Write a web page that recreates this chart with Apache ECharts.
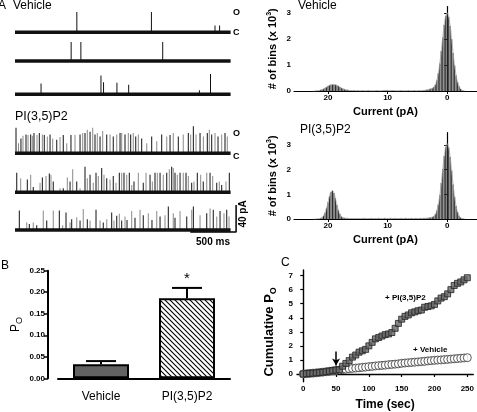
<!DOCTYPE html>
<html><head><meta charset="utf-8">
<script src="https://cdn.jsdelivr.net/npm/echarts@6/dist/echarts.min.js"></script>
<style>html,body{margin:0;padding:0;background:#fff}#c{width:477px;height:412px}</style>
</head><body><div id="c"></div><script>
// ---------- DATA ----------
// Panel A single-channel traces: spikes as [time (ms), amplitude (pA)]
const traceEnd = 2350;
const vehTrace1 = [[674,30],[1487,30],[2180,10],[2230,10]];
const vehTrace2 = [[612,28],[718,28],[1610,28]];
const vehTrace3 = [[284,16],[937,28],[965,18],[1111,17],[1239,14],[2010,6],[2131,30]];
const piTrace1 = [[11,38],[38,15],[65,22],[87,26],[120,28],[142,27],[171,28],[189,26],[207,30],[240,27],[265,30],[298,28],[319,27],[352,25],[382,28],[411,22],[455,20],[491,24],[526,27],[564,15],[610,27],[654,27],[709,28],[738,30],[763,30],[788,35],[818,32],[847,38],[872,28],[897,30],[927,25],[956,33],[1000,28],[1036,28],[1071,25],[1109,28],[1145,30],[1163,30],[1199,28],[1235,30],[1261,28],[1289,30],[1316,25],[1344,28],[1381,22],[1436,15],[1490,25],[1545,18],[1599,28],[1654,25],[1690,27],[1725,30],[1780,25],[1834,28],[1889,30],[1915,28],[1944,40],[1973,28],[2017,30],[2053,25],[2096,30],[2118,35],[2144,28],[2180,30],[2213,25],[2253,28],[2289,30],[2314,25]];
const piTrace2 = [[19,29],[62,21],[134,19],[171,26],[199,8],[273,14],[298,22],[338,24],[374,28],[392,26],[417,16],[491,6],[526,6],[570,22],[600,16],[629,34],[673,16],[709,6],[763,38],[788,21],[818,26],[853,14],[883,29],[908,24],[945,36],[970,26],[1000,21],[1036,19],[1071,24],[1101,14],[1137,29],[1163,29],[1188,29],[1218,26],[1246,29],[1272,11],[1297,16],[1344,29],[1398,14],[1428,29],[1472,26],[1497,16],[1526,29],[1551,29],[1581,29],[1616,26],[1654,29],[1682,34],[1708,38],[1725,36],[1744,29],[1769,26],[1799,29],[1834,29],[1864,29],[1889,24],[1926,14],[1951,16],[1987,29],[2024,26],[2052,16],[2090,29],[2126,29],[2155,24],[2199,14],[2227,16],[2253,11],[2300,16],[2336,29]];
const piTrace3 = [[47,29],[128,11],[156,9],[199,11],[237,7],[308,29],[346,14],[417,29],[483,29],[520,7],[556,26],[600,11],[618,16],[673,19],[709,14],[744,31],[788,16],[818,14],[883,30],[927,14],[962,11],[1000,16],[1054,26],[1079,14],[1109,21],[1137,24],[1163,14],[1199,20],[1221,15],[1272,28],[1308,18],[1363,30],[1398,22],[1453,25],[1493,15],[1545,28],[1581,20],[1635,22],[1671,35],[1725,25],[1744,18],[1799,28],[1872,20],[1926,30],[1944,35],[2017,22],[2090,25],[2126,32],[2161,30],[2199,20],[2235,28],[2278,25],[2308,30],[2333,20]];
const scaleTimeMs = 500, scaleCurrentPA = 40;

// Panel A histograms: bins of 0.25 pA from -3 pA, counts in thousands
const binStart = -3, binWidth = 0.25;
const vehHistCounts = [
 0.00,0.01,0.03,0.08,0.18,0.34,0.60,0.98,1.46,2.00,2.50,2.86,3.00,2.88,2.55,2.06,1.54,1.06,0.68,0.41,0.24,0.15,0.11,0.09,0.07,0.05,0.04,0.03,
 0.02,0.02,0.01,0.02,0.01,0.01,0.02,0.01,0.01,0.01,0.02,0.01,0.01,0.01,0.01,0.02,0.01,0.01,0.01,0.01,0.02,0.02,0.01,0.02,
 0.02,0.03,0.02,0.02,0.01,0.01,0.01,0.02,0.01,0.01,0.01,0.01,0.01,0.02,0.01,0.01,0.01,0.02,0.01,0.01,0.02,0.01,0.02,0.02,
 0.02,0.02,0.03,0.04,0.05,0.07,0.09,0.12,0.15,0.19,0.22,0.24,0.25,0.25,0.24,0.22,0.19,0.15,0.12,0.08,0.06,0.04,0.02,0.01,0.01,0.00,0.00];
const piHistCounts = [
 0.00,0.01,0.02,0.05,0.13,0.28,0.53,0.90,1.40,1.97,2.51,2.90,3.05,2.92,2.55,2.02,1.46,0.96,0.59,0.34,0.19,0.11,0.08,0.06,0.05,0.04,0.03,0.03,
 0.03,0.02,0.03,0.02,0.02,0.03,0.02,0.02,0.03,0.02,0.02,0.02,0.03,0.02,0.02,0.03,0.02,0.02,0.02,0.03,0.02,0.02,0.03,0.02,
 0.02,0.02,0.03,0.02,0.02,0.02,0.03,0.02,0.02,0.02,0.02,0.03,0.02,0.02,0.02,0.02,0.03,0.02,0.02,0.02,0.02,0.02,0.02,0.02,
 0.02,0.02,0.02,0.03,0.03,0.04,0.06,0.10,0.20,0.36,0.58,0.84,1.05,1.15,1.10,0.92,0.68,0.44,0.25,0.13,0.06,0.03,0.01,0.01,0.00,0.00,0.00];
const histTicks = [0,10,20];
const histYTicks = [0,1,2,3];

// Panel B: open probability
const groups = ['Vehicle','PI(3,5)P2'];
const poMean = [0.0325, 0.186];
const poSem = [0.0075, 0.024];
const sigMarks = ['', '*'];

// Panel C: cumulative Po
const cumTime = [0,5,10,15,20,25,30,35,40,45,50,55,60,65,70,75,80,85,90,95,100,105,110,115,120,125,130,135,140,145,150,155,160,165,170,175,180,185,190,195,200,205,210,215,220,225,230,235,240,245,250];
const cumPI = [0,0.02,0.04,0.06,0.08,0.10,0.13,0.16,0.20,0.24,0.28,0.30,0.55,0.75,0.95,1.20,1.35,1.55,1.65,1.75,2.00,2.25,2.50,2.60,2.70,2.80,2.85,2.95,3.25,3.60,3.90,4.10,4.20,4.35,4.42,4.50,4.55,4.75,4.80,4.85,4.95,5.20,5.40,5.50,5.70,6.00,6.30,6.45,6.55,6.70,6.85];
const cumVeh = [0,0.02,0.04,0.06,0.08,0.11,0.13,0.16,0.19,0.22,0.25,0.28,0.31,0.34,0.37,0.40,0.42,0.44,0.47,0.49,0.52,0.54,0.57,0.59,0.61,0.63,0.66,0.68,0.70,0.72,0.76,0.78,0.80,0.82,0.84,0.86,0.88,0.90,0.93,0.95,0.97,0.99,1.00,1.02,1.04,1.06,1.08,1.10,1.12,1.14,1.16];
const additionTime = 50;
const cumXTicks = [0,50,100,150,200,250];
const cumYTicks = [0,1,2,3,4,5,6,7];

// ---------- CHART ----------
const FONT = 'Liberation Sans, Arial, Helvetica, sans-serif';
const chart = echarts.init(document.getElementById('c'), null, {renderer:'canvas'});
const grids = [], xAxes = [], yAxes = [], series = [];

// traces
const traces = [vehTrace1, vehTrace2, vehTrace3, piTrace1, piTrace2, piTrace3];
const baselines = [32.3, 61, 94.3, 153.3, 192.3, 230];
const pxPerPA = 0.675, msPerPx = 10.9, traceAxisMax = 2450, yLo = -4, yHi = 40;
traces.forEach((tr, k) => {
  grids.push({left:15, top: baselines[k] - yHi*pxPerPA, width: traceAxisMax/msPerPx, height: (yHi-yLo)*pxPerPA});
  xAxes.push({gridIndex:k, type:'value', min:0, max:traceAxisMax, show:false});
  yAxes.push({gridIndex:k, type:'value', min:yLo, max:yHi, show:false});
  series.push({type:'line', xAxisIndex:k, yAxisIndex:k, data:[[0,0],[traceEnd,0]], symbol:'none', silent:true,
    lineStyle:{color:'#111', width:3.4}});
  series.push({type:'bar', xAxisIndex:k, yAxisIndex:k, barWidth:1, silent:true,
    data: tr.map((p,i) => ({value:p, itemStyle:{color: (k>=3 && i%2===1) ? '#8a8a8a' : '#111'}}))});
});
// scale bar in last trace grid
const sbEnd = 2410, sbBase = -3;
series.push({type:'line', xAxisIndex:5, yAxisIndex:5, symbol:'none', silent:true,
  data:[[sbEnd-scaleTimeMs, sbBase],[sbEnd, sbBase],[sbEnd, sbBase+scaleCurrentPA]],
  lineStyle:{color:'#000', width:1.5}});

// histograms
const hsup = {sup:{fontSize:7, fontWeight:'bold', fontFamily:FONT, padding:[0,0,7,0]}};
function addHist(idx, top, height, ymax, counts) {
  grids.push({left:294, top, width:183, height});
  xAxes.push({gridIndex:idx, type:'value', min:-5, max:25.7, inverse:true,
    axisLine:{lineStyle:{color:'#000', width:1.2}},
    axisTick:{customValues:histTicks, length:3, lineStyle:{color:'#000'}},
    axisLabel:{customValues:histTicks, fontSize:8, fontWeight:'bold', color:'#000', margin:3, fontFamily:FONT},
    splitLine:{show:false},
    name:'Current (pA)', nameLocation:'middle', nameGap:15,
    nameTextStyle:{fontSize:11, fontWeight:'bold', color:'#000', fontFamily:FONT}});
  yAxes.push({gridIndex:idx, type:'value', min:0, max:ymax,
    axisLine:{show:true, lineStyle:{color:'#000', width:1.2}},
    axisTick:{show:true, customValues:histYTicks, length:3, lineStyle:{color:'#000'}},
    axisLabel:{customValues:histYTicks, fontSize:8, fontWeight:'bold', color:'#000', margin:3, fontFamily:FONT},
    splitLine:{show:false},
    name:'# of bins (x 10{sup|3})', nameLocation:'middle', nameGap:14, nameRotate:90,
    nameTextStyle:{fontSize:11, fontWeight:'bold', color:'#000', fontFamily:FONT, rich:hsup}});
  const pts = counts.map((c,i) => [binStart + i*binWidth, c]);
  series.push({type:'bar', xAxisIndex:idx, yAxisIndex:idx, barWidth:1.1, silent:true, data:pts, itemStyle:{color:'#2e2e2e'}});
  series.push({type:'line', xAxisIndex:idx, yAxisIndex:idx, smooth:true, symbol:'none', silent:true, data:pts,
    lineStyle:{color:'#aaa', width:0.8}});
}
addHist(6, 6.5, 84.5, 3.25, vehHistCounts);
addHist(7, 132.7, 86.3, 3.5, piHistCounts);

// Panel B
const pc = document.createElement('canvas'); pc.width = 5; pc.height = 5;
const g2 = pc.getContext('2d'); g2.fillStyle = '#fff'; g2.fillRect(0,0,5,5);
g2.strokeStyle = '#000'; g2.lineWidth = 1.1; g2.beginPath();
g2.moveTo(-1,-1); g2.lineTo(6,6); g2.moveTo(-1,4); g2.lineTo(1,6); g2.moveTo(4,-1); g2.lineTo(6,1); g2.stroke();
const hatch = {image: pc, repeat:'repeat'};
grids.push({left:58, top:270.7, width:172, height:107.6});
xAxes.push({gridIndex:8, type:'category', data:groups, offset:5,
  axisLine:{lineStyle:{color:'#000', width:2}},
  axisTick:{alignWithLabel:true, length:5, lineStyle:{color:'#000', width:2}},
  axisLabel:{fontSize:12, color:'#000', margin:7, fontFamily:FONT}});
yAxes.push({gridIndex:8, type:'value', min:0, max:0.25, interval:0.05, offset:10,
  axisLine:{show:true, lineStyle:{color:'#000', width:2}},
  axisTick:{show:true, length:4, lineStyle:{color:'#000', width:1.5}},
  axisLabel:{fontSize:8, fontWeight:'bold', color:'#000', margin:3, fontFamily:FONT, formatter:v => v.toFixed(2)},
  splitLine:{show:false},
  name:'P{sub|O}', nameLocation:'middle', nameGap:24, nameRotate:90,
  nameTextStyle:{fontSize:12, color:'#000', fontFamily:FONT, rich:{sub:{fontSize:9, fontFamily:FONT, padding:[8,0,0,0]}}}});
series.push({type:'bar', xAxisIndex:8, yAxisIndex:8, barWidth:56, silent:true,
  data: poMean.map((v,i) => ({value:v, itemStyle:{color: i===0 ? '#636363' : hatch, borderColor:'#000', borderWidth:2}}))});
series.push({type:'custom', xAxisIndex:8, yAxisIndex:8, silent:true, z:1,
  data: groups.map((gname,i) => [i, poMean[i], poSem[i]]),
  encode:{x:0, y:1},
  renderItem:(params, api) => {
    const i = api.value(0), m = api.value(1), e = api.value(2);
    const base = api.coord([i, m]), top = api.coord([i, m+e]);
    const cap = 15;
    const ch = [
      {type:'line', shape:{x1:base[0], y1:base[1], x2:top[0], y2:top[1]}, style:{stroke:'#000', lineWidth:2}},
      {type:'line', shape:{x1:top[0]-cap, y1:top[1], x2:top[0]+cap, y2:top[1]}, style:{stroke:'#000', lineWidth:2}}
    ];
    const s = sigMarks[params.dataIndex];
    if (s) ch.push({type:'text', x:top[0], y:top[1]-2, style:{text:s, align:'center', verticalAlign:'bottom', font:'15px '+FONT, fill:'#000'}});
    return {type:'group', children:ch};
  }});

// Panel C
grids.push({left:297, top:270, width:178, height:111.7});
xAxes.push({gridIndex:9, type:'value', min:-9.5, max:259,
  axisLine:{lineStyle:{color:'#000', width:1.4}},
  axisTick:{customValues:cumXTicks, length:3, lineStyle:{color:'#000', width:1.2}},
  axisLabel:{customValues:cumXTicks, fontSize:8, fontWeight:'bold', color:'#000', margin:3, fontFamily:FONT},
  splitLine:{show:false},
  name:'Time (sec)', nameLocation:'middle', nameGap:17,
  nameTextStyle:{fontSize:12, fontWeight:'bold', color:'#000', fontFamily:FONT}});
yAxes.push({gridIndex:9, type:'value', min:-0.55, max:7.4,
  axisLine:{show:true, lineStyle:{color:'#000', width:1.4}},
  axisTick:{show:true, customValues:cumYTicks, length:3, lineStyle:{color:'#000', width:1.2}},
  axisLabel:{customValues:cumYTicks, fontSize:8, fontWeight:'bold', color:'#000', margin:4, fontFamily:FONT},
  splitLine:{show:false},
  name:'Cumulative P{sub|O}', nameLocation:'middle', nameGap:19, nameRotate:90,
  nameTextStyle:{fontSize:13, fontWeight:'bold', color:'#000', fontFamily:FONT, padding:[0,0,0,-12],
    rich:{sub:{fontSize:9, fontWeight:'bold', fontFamily:FONT, padding:[8,0,0,0]}}}});
series.push({type:'scatter', xAxisIndex:9, yAxisIndex:9, silent:true, symbol:'circle', symbolSize:8, z:2,
  data: cumTime.map((t,i) => [t, cumVeh[i]]),
  itemStyle:{color:'#fff', borderColor:'#333', borderWidth:1}});
series.push({type:'scatter', xAxisIndex:9, yAxisIndex:9, silent:true, symbol:'rect', symbolSize:6, z:3,
  data: cumTime.map((t,i) => [t, cumPI[i]]),
  itemStyle:{color:'#666', borderColor:'#222', borderWidth:1},
  markLine:{silent:true, symbol:['none','arrow'], symbolSize:[6,7], label:{show:false},
    lineStyle:{color:'#000', width:1.5, type:'solid'},
    data:[[{coord:[additionTime, 1.6]},{coord:[additionTime, 0.6]}]]}});

// text
function txt(x, y, text, size, bold, align, rot) {
  return {type:'text', x, y, rotation: rot || 0, silent:true, z:10,
    style:{text, fill:'#000', font:(bold?'bold ':'')+size+'px '+FONT, align: align||'left', verticalAlign:'middle'}};
}
const graphic = [
  txt(-2, 6, 'A', 12), txt(13, 6, 'Vehicle', 12),
  txt(15, 116.5, 'PI(3,5)P2', 12.5),
  txt(233, 13, 'O', 9, true), txt(233, 33, 'C', 9, true),
  txt(233, 134, 'O', 9, true), txt(233, 157, 'C', 9, true),
  txt(243, 214, '40 pA', 10, true, 'center', Math.PI/2),
  txt(213, 242, '500 ms', 10, true, 'center'),
  txt(298, 6, 'Vehicle', 12), txt(300, 130, 'PI(3,5)P2', 12),
  txt(1, 266, 'B', 12), txt(281, 263, 'C', 12),
  txt(385, 298, '+ PI(3,5)P2', 8, true), txt(413, 350, '+ Vehicle', 8, true)
];

chart.setOption({animation:false, backgroundColor:'#fff', grid:grids, xAxis:xAxes, yAxis:yAxes, series, graphic});
</script></body></html>
